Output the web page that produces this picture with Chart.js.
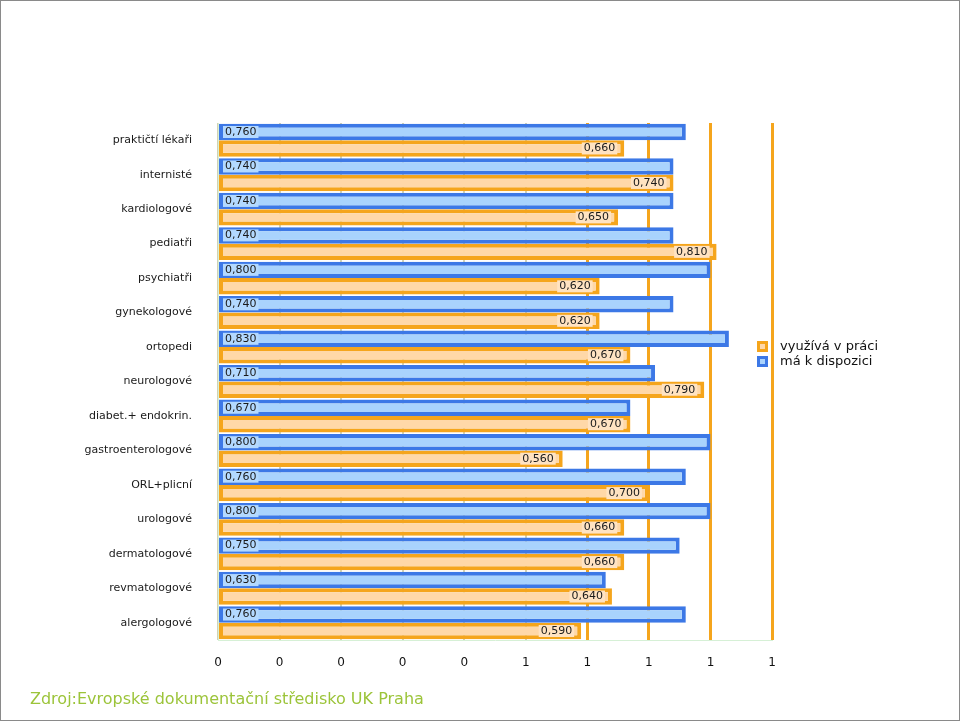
<!DOCTYPE html>
<html>
<head>
<meta charset="utf-8">
<script src="https://cdn.jsdelivr.net/npm/chart.js@4.4.1/dist/chart.umd.min.js"></script>
<style>
  html, body { margin: 0; padding: 0; background: #fff; }
  #wrap { position: relative; width: 960px; height: 721px; }
  #frame { position: absolute; left: 0; top: 0; width: 958px; height: 719px; border: 1px solid #8a8a8a; pointer-events: none; }
  #source { position: absolute; left: 30px; top: 689px; font-family: "DejaVu Sans", sans-serif; font-size: 16px; color: #9cc43a; }
</style>
</head>
<body>
<div id="wrap">
  <canvas id="chart" width="960" height="721"></canvas>
  <div id="source">Zdroj:Evropské dokumentační středisko UK Praha</div>
  <div id="frame"></div>
</div>
<script>
// categories (top to bottom)
let categories = ['praktičtí lékaři', 'internisté', 'kardiologové', 'pediatři', 'psychiatři',
    'gynekologové', 'ortopedi', 'neurologové', 'diabet.+ endokrin.', 'gastroenterologové',
    'ORL+plicní', 'urologové', 'dermatologové', 'revmatologové', 'alergologové'];

// má k dispozici (blue, upper bar)
let maKDispozici = [0.76, 0.74, 0.74, 0.74, 0.80, 0.74, 0.83, 0.71, 0.67, 0.80, 0.76, 0.80, 0.75, 0.63, 0.76];
// využívá v práci (orange, lower bar)
let vyuzivaVPraci = [0.66, 0.74, 0.65, 0.81, 0.62, 0.62, 0.67, 0.79, 0.67, 0.56, 0.70, 0.66, 0.66, 0.64, 0.59];

// x axis tick labels as printed in the original (rounded to whole numbers)
let tickLabels = ['0', '0', '0', '0', '0', '1', '1', '1', '1', '1'];

const blueBorder = '#3c78e6';
const blueFill = '#a9d3fd';
const orangeBorder = '#f5a51c';
const orangeFill = '#ffd8a8';

// value labels: blue ones at the start of the bar, orange ones at the end
const valueLabels = {
    id: 'valueLabels',
    afterDatasetsDraw(chart) {
        let ctx = chart.ctx;
        ctx.save();
        ctx.font = '11px "DejaVu Sans"';
        ctx.textBaseline = 'middle';
        chart.data.datasets.forEach((ds, i) => {
            chart.getDatasetMeta(i).data.forEach((bar, j) => {
                let txt = ds.data[j].toFixed(3).replace('.', ',');
                let w = ctx.measureText(txt).width;
                let left = i === 0 ? bar.base + 6 : bar.x - 9 - w;
                ctx.fillStyle = i === 0 ? '#b3d9ff' : '#ffe3c2';
                ctx.fillRect(left - 2, bar.y - 6, w + 4, 12);
                ctx.fillStyle = '#1a1a1a';
                ctx.textAlign = 'left';
                ctx.fillText(txt, left, bar.y);
            });
        });
        ctx.restore();
    }
};

// legend drawn beside the right edge of the plot, orange entry first
const sideLegend = {
    id: 'sideLegend',
    afterDraw(chart) {
        let ctx = chart.ctx;
        let area = chart.chartArea;
        let x = area.right - 15;
        let y = area.top + 218;
        let items = [
            { text: 'využívá v práci', fill: orangeFill, border: orangeBorder },
            { text: 'má k dispozici', fill: blueFill, border: blueBorder }
        ];
        ctx.save();
        ctx.font = '13px "DejaVu Sans"';
        ctx.textBaseline = 'middle';
        ctx.textAlign = 'left';
        items.forEach((it, k) => {
            let yy = y + k * 15;
            ctx.fillStyle = it.border;
            ctx.fillRect(x, yy, 11, 11);
            ctx.fillStyle = it.fill;
            ctx.fillRect(x + 3, yy + 3, 5, 5);
            ctx.fillStyle = '#111';
            ctx.fillText(it.text, x + 23, yy + 6);
        });
        ctx.restore();
    }
};

let ctx = document.getElementById('chart').getContext('2d');
let chart = new Chart(ctx, {
    type: 'bar',
    data: {
        labels: categories,
        datasets: [{
            label: 'má k dispozici',
            data: maKDispozici,
            backgroundColor: blueFill,
            borderColor: blueBorder,
            borderWidth: 4,
            borderSkipped: false
        }, {
            label: 'využívá v práci',
            data: vyuzivaVPraci,
            backgroundColor: orangeFill,
            borderColor: orangeBorder,
            borderWidth: 4,
            borderSkipped: false
        }]
    },
    options: {
        indexAxis: 'y',
        responsive: false,
        animation: false,
        layout: { padding: { left: 0, top: 123, right: 188, bottom: 0 } },
        datasets: {
            bar: { categoryPercentage: 0.955, barPercentage: 1.0 }
        },
        plugins: {
            legend: { display: false },
            tooltip: { enabled: false }
        },
        scales: {
            x: {
                min: 0,
                max: 0.9,
                ticks: {
                    stepSize: 0.1,
                    padding: 16,
                    color: '#111',
                    font: { family: 'DejaVu Sans', size: 12 },
                    callback: (v, i) => tickLabels[i]
                },
                grid: {
                    drawTicks: false,
                    color: c => (c.tick && c.tick.value > 0.55) ? orangeBorder : '#d2d2b4',
                    lineWidth: c => (c.tick && c.tick.value > 0.55) ? 3 : 2
                },
                border: { color: '#d6f0d6', width: 1 },
                afterFit: s => { s.height = 81; }
            },
            y: {
                ticks: {
                    padding: 26,
                    color: '#1a1a1a',
                    font: { family: 'DejaVu Sans', size: 11 }
                },
                grid: { display: false, drawTicks: false },
                border: { color: '#d6f0d6', width: 1 },
                afterFit: s => { s.width = 218; }
            }
        }
    },
    plugins: [valueLabels, sideLegend]
});
</script>
</body>
</html>
